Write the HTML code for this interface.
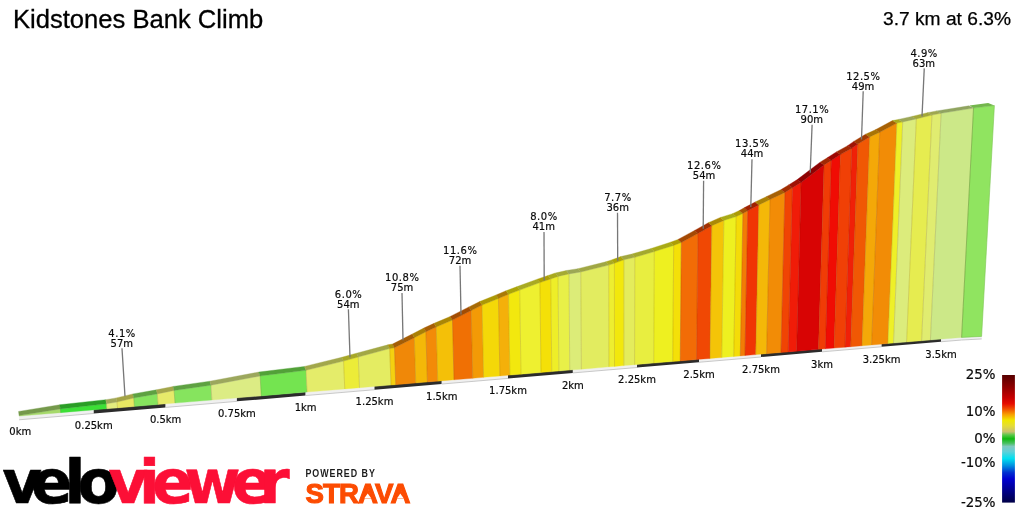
<!DOCTYPE html>
<html><head><meta charset="utf-8"><title>Kidstones Bank Climb</title>
<style>
html,body{margin:0;padding:0;background:#fff;}
body{width:1024px;height:512px;overflow:hidden;position:relative;font-family:"Liberation Sans",sans-serif;}
svg{position:absolute;left:0;top:0;}
.s{font-family:"DejaVu Sans","Liberation Sans",sans-serif;font-size:10px;fill:#0a0a0a;stroke:#0a0a0a;stroke-width:0.18px;text-anchor:middle;}
.lg{font-family:"DejaVu Sans","Liberation Sans",sans-serif;font-size:13.4px;fill:#0a0a0a;stroke:#0a0a0a;stroke-width:0.2px;text-anchor:end;}
.t1{font-family:"Liberation Sans",sans-serif;font-size:25.6px;fill:#000;stroke:#000;stroke-width:0.3px;}
.t2{font-family:"Liberation Sans",sans-serif;font-size:19.2px;fill:#000;stroke:#000;stroke-width:0.25px;text-anchor:end;}
.vv{font-family:"DejaVu Sans","Liberation Sans",sans-serif;font-weight:bold;font-size:61px;stroke-width:0.6px;stroke-linejoin:round;}
.pb{font-family:"Liberation Sans",sans-serif;font-weight:bold;font-size:10.1px;letter-spacing:1.12px;fill:#1c1c1c;}
.st{font-family:"Liberation Sans",sans-serif;font-weight:bold;font-size:27.6px;letter-spacing:-0.9px;fill:#fc4c02;stroke:#fc4c02;stroke-width:1.1px;}
</style></head>
<body>
<svg width="1024" height="512" viewBox="0 0 1024 512">
<defs>
<linearGradient id="lg" x1="0" y1="0" x2="0" y2="1">
<stop offset="0" stop-color="#560000"/>
<stop offset="0.09" stop-color="#8c0000"/>
<stop offset="0.18" stop-color="#c80000"/>
<stop offset="0.225" stop-color="#e60c00"/>
<stop offset="0.265" stop-color="#f04c00"/>
<stop offset="0.31" stop-color="#f8a000"/>
<stop offset="0.355" stop-color="#f0e800"/>
<stop offset="0.40" stop-color="#e4dc38"/>
<stop offset="0.445" stop-color="#c8c070"/>
<stop offset="0.47" stop-color="#58c848"/>
<stop offset="0.50" stop-color="#10b810"/>
<stop offset="0.535" stop-color="#48c060"/>
<stop offset="0.56" stop-color="#80c8c0"/>
<stop offset="0.60" stop-color="#60d0d8"/>
<stop offset="0.655" stop-color="#00e0f0"/>
<stop offset="0.71" stop-color="#0090e0"/>
<stop offset="0.765" stop-color="#0030d0"/>
<stop offset="0.815" stop-color="#0000d0"/>
<stop offset="0.90" stop-color="#000090"/>
<stop offset="0.975" stop-color="#000058"/>
<stop offset="1" stop-color="#000048"/>
</linearGradient>
</defs>
<text class="t1" x="12.9" y="28">Kidstones Bank Climb</text>
<text class="t2" x="1011" y="25">3.7 km at 6.3%</text>
<polygon points="19.10,415.80 93.75,409.57 93.75,413.48 19.10,419.80" fill="#f0f0f0"/>
<polyline points="19.10,419.80 93.75,413.48" fill="none" stroke="#bcbcbc" stroke-width="0.8"/>
<polygon points="93.75,409.57 165.60,403.57 165.60,407.40 93.75,413.48" fill="#2b2b2b"/>
<polygon points="165.60,403.57 236.90,397.61 236.90,401.36 165.60,407.40" fill="#f0f0f0"/>
<polyline points="165.60,407.40 236.90,401.36" fill="none" stroke="#bcbcbc" stroke-width="0.8"/>
<polygon points="236.90,397.61 305.60,391.88 305.60,395.55 236.90,401.36" fill="#2b2b2b"/>
<polygon points="305.60,391.88 374.50,386.12 374.50,389.72 305.60,395.55" fill="#f0f0f0"/>
<polyline points="305.60,395.55 374.50,389.72" fill="none" stroke="#bcbcbc" stroke-width="0.8"/>
<polygon points="374.50,386.12 441.75,380.51 441.75,384.02 374.50,389.72" fill="#2b2b2b"/>
<polygon points="441.75,380.51 508.00,374.98 508.00,378.42 441.75,384.02" fill="#f0f0f0"/>
<polyline points="441.75,384.02 508.00,378.42" fill="none" stroke="#bcbcbc" stroke-width="0.8"/>
<polygon points="508.00,374.98 572.90,369.56 572.90,372.92 508.00,378.42" fill="#2b2b2b"/>
<polygon points="572.90,369.56 637.00,364.21 637.00,367.50 572.90,372.92" fill="#f0f0f0"/>
<polyline points="572.90,372.92 637.00,367.50" fill="none" stroke="#bcbcbc" stroke-width="0.8"/>
<polygon points="637.00,364.21 699.00,359.03 699.00,362.25 637.00,367.50" fill="#2b2b2b"/>
<polygon points="699.00,359.03 761.00,353.85 761.00,357.00 699.00,362.25" fill="#f0f0f0"/>
<polyline points="699.00,362.25 761.00,357.00" fill="none" stroke="#bcbcbc" stroke-width="0.8"/>
<polygon points="761.00,353.85 822.00,348.76 822.00,351.84 761.00,357.00" fill="#2b2b2b"/>
<polygon points="822.00,348.76 881.60,343.78 881.60,346.79 822.00,351.84" fill="#f0f0f0"/>
<polyline points="822.00,351.84 881.60,346.79" fill="none" stroke="#bcbcbc" stroke-width="0.8"/>
<polygon points="881.60,343.78 941.00,338.82 941.00,341.76 881.60,346.79" fill="#2b2b2b"/>
<polygon points="941.00,338.82 961.60,337.10 981.70,336.07 981.70,338.96 961.60,340.02 941.00,341.76" fill="#f0f0f0"/>
<polyline points="941.00,341.76 961.60,340.02 981.70,338.96" fill="none" stroke="#bcbcbc" stroke-width="0.8"/>
<polygon points="19.10,416.10 60.70,412.63 60.38,408.90 19.05,415.60" fill="#a6d96b" stroke="#a6d96b" stroke-width="0.35"/>
<polygon points="60.70,412.63 106.90,408.77 106.51,403.80 60.38,408.90" fill="#3cdf36" stroke="#3cdf36" stroke-width="0.35"/>
<polygon points="106.90,408.77 117.50,407.88 117.04,402.00 106.51,403.80" fill="#e3ec7f" stroke="#e3ec7f" stroke-width="0.35"/>
<polygon points="117.50,407.88 134.40,406.47 133.76,398.00 117.04,402.00" fill="#e8e862" stroke="#e8e862" stroke-width="0.35"/>
<polygon points="134.40,406.47 158.10,404.49 157.34,393.90 133.76,398.00" fill="#86e45e" stroke="#86e45e" stroke-width="0.35"/>
<polygon points="158.10,404.49 175.00,403.08 174.14,390.50 157.34,393.90" fill="#e6ea6a" stroke="#e6ea6a" stroke-width="0.35"/>
<polygon points="175.00,403.08 211.90,400.00 210.97,385.20 174.14,390.50" fill="#86e45e" stroke="#86e45e" stroke-width="0.35"/>
<polygon points="211.90,400.00 261.25,395.88 260.15,376.00 210.97,385.20" fill="#dcec84" stroke="#dcec84" stroke-width="0.35"/>
<polygon points="261.25,395.88 307.10,392.05 306.05,370.30 260.15,376.00" fill="#74e450" stroke="#74e450" stroke-width="0.35"/>
<polygon points="307.10,392.05 344.75,388.91 343.57,361.10 306.05,370.30" fill="#e4ec6a" stroke="#e4ec6a" stroke-width="0.35"/>
<polygon points="344.75,388.91 359.50,387.68 358.27,357.00 343.57,361.10" fill="#ecec38" stroke="#ecec38" stroke-width="0.35"/>
<polygon points="359.50,387.68 391.00,385.05 389.71,348.60 358.27,357.00" fill="#e4ec62" stroke="#e4ec62" stroke-width="0.35"/>
<polygon points="391.00,385.05 395.75,384.65 394.47,347.75 389.71,348.60" fill="#f4d010" stroke="#f4d010" stroke-width="0.35"/>
<polygon points="395.75,384.65 415.75,382.98 414.33,337.75 394.47,347.75" fill="#f08808" stroke="#f08808" stroke-width="0.35"/>
<polygon points="415.75,382.98 427.40,382.01 425.91,331.75 414.33,337.75" fill="#f4b808" stroke="#f4b808" stroke-width="0.35"/>
<polygon points="427.40,382.01 437.75,381.14 436.23,327.00 425.91,331.75" fill="#f38a08" stroke="#f38a08" stroke-width="0.35"/>
<polygon points="437.75,381.14 454.00,379.79 452.47,320.10 436.23,327.00" fill="#f4c008" stroke="#f4c008" stroke-width="0.35"/>
<polygon points="454.00,379.79 472.75,378.22 471.21,310.50 452.47,320.10" fill="#f07004" stroke="#f07004" stroke-width="0.35"/>
<polygon points="472.75,378.22 483.60,377.31 482.08,305.10 471.21,310.50" fill="#f39a06" stroke="#f39a06" stroke-width="0.35"/>
<polygon points="483.60,377.31 499.90,375.95 498.46,298.50 482.08,305.10" fill="#f4d808" stroke="#f4d808" stroke-width="0.35"/>
<polygon points="499.90,375.95 509.90,375.12 508.53,294.25 498.46,298.50" fill="#f4b00a" stroke="#f4b00a" stroke-width="0.35"/>
<polygon points="509.90,375.12 521.00,374.19 519.71,290.10 508.53,294.25" fill="#f2e80e" stroke="#f2e80e" stroke-width="0.35"/>
<polygon points="521.00,374.19 541.00,372.52 539.90,282.60 519.71,290.10" fill="#eef030" stroke="#eef030" stroke-width="0.35"/>
<polygon points="541.00,372.52 551.75,371.62 550.77,278.90 539.90,282.60" fill="#f4e008" stroke="#f4e008" stroke-width="0.35"/>
<polygon points="551.75,371.62 558.90,371.03 558.00,276.40 550.77,278.90" fill="#eeee28" stroke="#eeee28" stroke-width="0.35"/>
<polygon points="558.90,371.03 569.75,370.12 569.00,273.90 558.00,276.40" fill="#e8f048" stroke="#e8f048" stroke-width="0.35"/>
<polygon points="569.75,370.12 581.40,369.15 580.81,272.00 569.00,273.90" fill="#dcec78" stroke="#dcec78" stroke-width="0.35"/>
<polygon points="581.40,369.15 608.90,366.85 608.72,265.10 580.81,272.00" fill="#e2ec60" stroke="#e2ec60" stroke-width="0.35"/>
<polygon points="608.90,366.85 614.50,366.38 614.40,263.25 608.72,265.10" fill="#eeee30" stroke="#eeee30" stroke-width="0.35"/>
<polygon points="614.50,366.38 623.90,365.60 623.95,259.75 614.40,263.25" fill="#f2e80c" stroke="#f2e80c" stroke-width="0.35"/>
<polygon points="623.90,365.60 634.60,364.71 634.83,257.30 623.95,259.75" fill="#e4ec5c" stroke="#e4ec5c" stroke-width="0.35"/>
<polygon points="634.60,364.71 653.75,363.11 654.31,251.60 634.83,257.30" fill="#e8ee40" stroke="#e8ee40" stroke-width="0.35"/>
<polygon points="653.75,363.11 672.75,361.52 673.68,245.40 654.31,251.60" fill="#eef020" stroke="#eef020" stroke-width="0.35"/>
<polygon points="672.75,361.52 680.25,360.89 681.33,242.50 673.68,245.40" fill="#f4e008" stroke="#f4e008" stroke-width="0.35"/>
<polygon points="680.25,360.89 696.50,359.54 697.96,233.50 681.33,242.50" fill="#f26c06" stroke="#f26c06" stroke-width="0.35"/>
<polygon points="696.50,359.54 710.00,358.41 711.81,225.75 697.96,233.50" fill="#f04804" stroke="#f04804" stroke-width="0.35"/>
<polygon points="710.00,358.41 721.75,357.43 723.87,220.40 711.81,225.75" fill="#f4c408" stroke="#f4c408" stroke-width="0.35"/>
<polygon points="721.75,357.43 733.75,356.43 736.17,216.60 723.87,220.40" fill="#eef020" stroke="#eef020" stroke-width="0.35"/>
<polygon points="733.75,356.43 740.30,355.88 742.90,213.50 736.17,216.60" fill="#f4dc08" stroke="#f4dc08" stroke-width="0.35"/>
<polygon points="740.30,355.88 745.00,355.49 747.75,210.75 742.90,213.50" fill="#f27c06" stroke="#f27c06" stroke-width="0.35"/>
<polygon points="745.00,355.49 755.75,354.59 758.84,204.90 747.75,210.75" fill="#f03404" stroke="#f03404" stroke-width="0.35"/>
<polygon points="755.75,354.59 766.60,353.68 770.04,199.50 758.84,204.90" fill="#f4b808" stroke="#f4b808" stroke-width="0.35"/>
<polygon points="766.60,353.68 781.00,352.48 784.92,192.40 770.04,199.50" fill="#f28c06" stroke="#f28c06" stroke-width="0.35"/>
<polygon points="781.00,352.48 788.25,351.88 792.45,187.75 784.92,192.40" fill="#f04404" stroke="#f04404" stroke-width="0.35"/>
<polygon points="788.25,351.88 796.60,351.18 801.14,182.40 792.45,187.75" fill="#f01c08" stroke="#f01c08" stroke-width="0.35"/>
<polygon points="796.60,351.18 818.50,349.35 824.08,164.90 801.14,182.40" fill="#d80404" stroke="#d80404" stroke-width="0.35"/>
<polygon points="818.50,349.35 825.40,348.77 831.29,160.50 824.08,164.90" fill="#f03c06" stroke="#f03c06" stroke-width="0.35"/>
<polygon points="825.40,348.77 834.10,348.05 840.41,154.60 831.29,160.50" fill="#f00c04" stroke="#f00c04" stroke-width="0.35"/>
<polygon points="834.10,348.05 845.00,347.14 851.81,148.30 840.41,154.60" fill="#f04006" stroke="#f04006" stroke-width="0.35"/>
<polygon points="845.00,347.14 850.75,346.66 857.87,144.00 851.81,148.30" fill="#f02008" stroke="#f02008" stroke-width="0.35"/>
<polygon points="850.75,346.66 862.00,345.72 869.70,136.90 857.87,144.00" fill="#f05804" stroke="#f05804" stroke-width="0.35"/>
<polygon points="862.00,345.72 871.60,344.92 879.75,132.25 869.70,136.90" fill="#f4a808" stroke="#f4a808" stroke-width="0.35"/>
<polygon points="871.60,344.92 887.90,343.56 896.89,123.10 879.75,132.25" fill="#f28c06" stroke="#f28c06" stroke-width="0.35"/>
<polygon points="887.90,343.56 893.50,343.09 902.71,121.90 896.89,123.10" fill="#eef028" stroke="#eef028" stroke-width="0.35"/>
<polygon points="893.50,343.09 906.60,341.99 916.34,118.90 902.71,121.90" fill="#dcec7c" stroke="#dcec7c" stroke-width="0.35"/>
<polygon points="906.60,341.99 921.60,340.74 931.96,115.10 916.34,118.90" fill="#e6ec50" stroke="#e6ec50" stroke-width="0.35"/>
<polygon points="921.60,340.74 930.40,340.01 941.11,113.30 931.96,115.10" fill="#e0ec70" stroke="#e0ec70" stroke-width="0.35"/>
<polygon points="930.40,340.01 961.60,337.40 973.52,108.10 941.11,113.30" fill="#cce888" stroke="#cce888" stroke-width="0.35"/>
<polygon points="961.60,337.40 981.60,336.40 994.40,105.60 973.52,108.10" fill="#90e460" stroke="#7cc452" stroke-width="0.6"/>
<line x1="60.70" y1="412.63" x2="60.38" y2="408.90" stroke="#5a3400" stroke-opacity="0.24" stroke-width="0.7"/>
<line x1="106.90" y1="408.77" x2="106.51" y2="403.80" stroke="#5a3400" stroke-opacity="0.24" stroke-width="0.7"/>
<line x1="117.50" y1="407.88" x2="117.04" y2="402.00" stroke="#5a3400" stroke-opacity="0.24" stroke-width="0.7"/>
<line x1="134.40" y1="406.47" x2="133.76" y2="398.00" stroke="#5a3400" stroke-opacity="0.24" stroke-width="0.7"/>
<line x1="158.10" y1="404.49" x2="157.34" y2="393.90" stroke="#5a3400" stroke-opacity="0.24" stroke-width="0.7"/>
<line x1="175.00" y1="403.08" x2="174.14" y2="390.50" stroke="#5a3400" stroke-opacity="0.24" stroke-width="0.7"/>
<line x1="211.90" y1="400.00" x2="210.97" y2="385.20" stroke="#5a3400" stroke-opacity="0.24" stroke-width="0.7"/>
<line x1="261.25" y1="395.88" x2="260.15" y2="376.00" stroke="#5a3400" stroke-opacity="0.24" stroke-width="0.7"/>
<line x1="307.10" y1="392.05" x2="306.05" y2="370.30" stroke="#5a3400" stroke-opacity="0.24" stroke-width="0.7"/>
<line x1="344.75" y1="388.91" x2="343.57" y2="361.10" stroke="#5a3400" stroke-opacity="0.24" stroke-width="0.7"/>
<line x1="359.50" y1="387.68" x2="358.27" y2="357.00" stroke="#5a3400" stroke-opacity="0.24" stroke-width="0.7"/>
<line x1="391.00" y1="385.05" x2="389.71" y2="348.60" stroke="#5a3400" stroke-opacity="0.24" stroke-width="0.7"/>
<line x1="395.75" y1="384.65" x2="394.47" y2="347.75" stroke="#5a3400" stroke-opacity="0.24" stroke-width="0.7"/>
<line x1="415.75" y1="382.98" x2="414.33" y2="337.75" stroke="#5a3400" stroke-opacity="0.24" stroke-width="0.7"/>
<line x1="427.40" y1="382.01" x2="425.91" y2="331.75" stroke="#5a3400" stroke-opacity="0.24" stroke-width="0.7"/>
<line x1="437.75" y1="381.14" x2="436.23" y2="327.00" stroke="#5a3400" stroke-opacity="0.24" stroke-width="0.7"/>
<line x1="454.00" y1="379.79" x2="452.47" y2="320.10" stroke="#5a3400" stroke-opacity="0.24" stroke-width="0.7"/>
<line x1="472.75" y1="378.22" x2="471.21" y2="310.50" stroke="#5a3400" stroke-opacity="0.24" stroke-width="0.7"/>
<line x1="483.60" y1="377.31" x2="482.08" y2="305.10" stroke="#5a3400" stroke-opacity="0.24" stroke-width="0.7"/>
<line x1="499.90" y1="375.95" x2="498.46" y2="298.50" stroke="#5a3400" stroke-opacity="0.24" stroke-width="0.7"/>
<line x1="509.90" y1="375.12" x2="508.53" y2="294.25" stroke="#5a3400" stroke-opacity="0.24" stroke-width="0.7"/>
<line x1="521.00" y1="374.19" x2="519.71" y2="290.10" stroke="#5a3400" stroke-opacity="0.24" stroke-width="0.7"/>
<line x1="541.00" y1="372.52" x2="539.90" y2="282.60" stroke="#5a3400" stroke-opacity="0.24" stroke-width="0.7"/>
<line x1="551.75" y1="371.62" x2="550.77" y2="278.90" stroke="#5a3400" stroke-opacity="0.24" stroke-width="0.7"/>
<line x1="558.90" y1="371.03" x2="558.00" y2="276.40" stroke="#5a3400" stroke-opacity="0.24" stroke-width="0.7"/>
<line x1="569.75" y1="370.12" x2="569.00" y2="273.90" stroke="#5a3400" stroke-opacity="0.24" stroke-width="0.7"/>
<line x1="581.40" y1="369.15" x2="580.81" y2="272.00" stroke="#5a3400" stroke-opacity="0.24" stroke-width="0.7"/>
<line x1="608.90" y1="366.85" x2="608.72" y2="265.10" stroke="#5a3400" stroke-opacity="0.24" stroke-width="0.7"/>
<line x1="614.50" y1="366.38" x2="614.40" y2="263.25" stroke="#5a3400" stroke-opacity="0.24" stroke-width="0.7"/>
<line x1="623.90" y1="365.60" x2="623.95" y2="259.75" stroke="#5a3400" stroke-opacity="0.24" stroke-width="0.7"/>
<line x1="634.60" y1="364.71" x2="634.83" y2="257.30" stroke="#5a3400" stroke-opacity="0.24" stroke-width="0.7"/>
<line x1="653.75" y1="363.11" x2="654.31" y2="251.60" stroke="#5a3400" stroke-opacity="0.24" stroke-width="0.7"/>
<line x1="672.75" y1="361.52" x2="673.68" y2="245.40" stroke="#5a3400" stroke-opacity="0.24" stroke-width="0.7"/>
<line x1="680.25" y1="360.89" x2="681.33" y2="242.50" stroke="#5a3400" stroke-opacity="0.24" stroke-width="0.7"/>
<line x1="696.50" y1="359.54" x2="697.96" y2="233.50" stroke="#5a3400" stroke-opacity="0.24" stroke-width="0.7"/>
<line x1="710.00" y1="358.41" x2="711.81" y2="225.75" stroke="#5a3400" stroke-opacity="0.24" stroke-width="0.7"/>
<line x1="721.75" y1="357.43" x2="723.87" y2="220.40" stroke="#5a3400" stroke-opacity="0.24" stroke-width="0.7"/>
<line x1="733.75" y1="356.43" x2="736.17" y2="216.60" stroke="#5a3400" stroke-opacity="0.24" stroke-width="0.7"/>
<line x1="740.30" y1="355.88" x2="742.90" y2="213.50" stroke="#5a3400" stroke-opacity="0.24" stroke-width="0.7"/>
<line x1="745.00" y1="355.49" x2="747.75" y2="210.75" stroke="#5a3400" stroke-opacity="0.24" stroke-width="0.7"/>
<line x1="755.75" y1="354.59" x2="758.84" y2="204.90" stroke="#5a3400" stroke-opacity="0.24" stroke-width="0.7"/>
<line x1="766.60" y1="353.68" x2="770.04" y2="199.50" stroke="#5a3400" stroke-opacity="0.24" stroke-width="0.7"/>
<line x1="781.00" y1="352.48" x2="784.92" y2="192.40" stroke="#5a3400" stroke-opacity="0.24" stroke-width="0.7"/>
<line x1="788.25" y1="351.88" x2="792.45" y2="187.75" stroke="#5a3400" stroke-opacity="0.24" stroke-width="0.7"/>
<line x1="796.60" y1="351.18" x2="801.14" y2="182.40" stroke="#5a3400" stroke-opacity="0.24" stroke-width="0.7"/>
<line x1="818.50" y1="349.35" x2="824.08" y2="164.90" stroke="#5a3400" stroke-opacity="0.24" stroke-width="0.7"/>
<line x1="825.40" y1="348.77" x2="831.29" y2="160.50" stroke="#5a3400" stroke-opacity="0.24" stroke-width="0.7"/>
<line x1="834.10" y1="348.05" x2="840.41" y2="154.60" stroke="#5a3400" stroke-opacity="0.24" stroke-width="0.7"/>
<line x1="845.00" y1="347.14" x2="851.81" y2="148.30" stroke="#5a3400" stroke-opacity="0.24" stroke-width="0.7"/>
<line x1="850.75" y1="346.66" x2="857.87" y2="144.00" stroke="#5a3400" stroke-opacity="0.24" stroke-width="0.7"/>
<line x1="862.00" y1="345.72" x2="869.70" y2="136.90" stroke="#5a3400" stroke-opacity="0.24" stroke-width="0.7"/>
<line x1="871.60" y1="344.92" x2="879.75" y2="132.25" stroke="#5a3400" stroke-opacity="0.24" stroke-width="0.7"/>
<line x1="887.90" y1="343.56" x2="896.89" y2="123.10" stroke="#5a3400" stroke-opacity="0.24" stroke-width="0.7"/>
<line x1="893.50" y1="343.09" x2="902.71" y2="121.90" stroke="#5a3400" stroke-opacity="0.24" stroke-width="0.7"/>
<line x1="906.60" y1="341.99" x2="916.34" y2="118.90" stroke="#5a3400" stroke-opacity="0.24" stroke-width="0.7"/>
<line x1="921.60" y1="340.74" x2="931.96" y2="115.10" stroke="#5a3400" stroke-opacity="0.24" stroke-width="0.7"/>
<line x1="930.40" y1="340.01" x2="941.11" y2="113.30" stroke="#5a3400" stroke-opacity="0.24" stroke-width="0.7"/>
<line x1="961.60" y1="337.40" x2="973.52" y2="108.10" stroke="#5a3400" stroke-opacity="0.24" stroke-width="0.7"/>
<polygon points="19.05,415.60 60.38,408.90 59.76,404.76 18.55,411.45" fill="#75994b" stroke="#75994b" stroke-width="0.35"/>
<polygon points="60.38,408.90 106.51,403.80 105.73,399.69 59.76,404.76" fill="#2a9d26" stroke="#2a9d26" stroke-width="0.35"/>
<polygon points="106.51,403.80 117.04,402.00 116.23,397.90 105.73,399.69" fill="#a1a75a" stroke="#a1a75a" stroke-width="0.35"/>
<polygon points="117.04,402.00 133.76,398.00 132.89,393.91 116.23,397.90" fill="#a4a445" stroke="#a4a445" stroke-width="0.35"/>
<polygon points="133.76,398.00 157.34,393.90 156.38,389.84 132.89,393.91" fill="#5ea142" stroke="#5ea142" stroke-width="0.35"/>
<polygon points="157.34,393.90 174.14,390.50 173.11,386.45 156.38,389.84" fill="#a3a64b" stroke="#a3a64b" stroke-width="0.35"/>
<polygon points="174.14,390.50 210.97,385.20 209.79,381.19 173.11,386.45" fill="#5ea142" stroke="#5ea142" stroke-width="0.35"/>
<polygon points="210.97,385.20 260.15,376.00 258.77,372.06 209.79,381.19" fill="#9ca75d" stroke="#9ca75d" stroke-width="0.35"/>
<polygon points="260.15,376.00 306.05,370.30 304.48,366.42 258.77,372.06" fill="#52a138" stroke="#52a138" stroke-width="0.35"/>
<polygon points="306.05,370.30 343.57,361.10 341.83,357.28 304.48,366.42" fill="#a2a74b" stroke="#a2a74b" stroke-width="0.35"/>
<polygon points="343.57,361.10 358.27,357.00 356.47,353.21 341.83,357.28" fill="#a7a727" stroke="#a7a727" stroke-width="0.35"/>
<polygon points="358.27,357.00 389.71,348.60 387.77,344.86 356.47,353.21" fill="#a2a745" stroke="#a2a745" stroke-width="0.35"/>
<polygon points="389.71,348.60 394.47,347.75 392.51,344.02 387.77,344.86" fill="#ab920b" stroke="#ab920b" stroke-width="0.35"/>
<polygon points="394.47,347.75 414.33,337.75 412.27,334.06 392.51,344.02" fill="#a45d05" stroke="#a45d05" stroke-width="0.35"/>
<polygon points="414.33,337.75 425.91,331.75 423.80,328.08 412.27,334.06" fill="#aa8005" stroke="#aa8005" stroke-width="0.35"/>
<polygon points="425.91,331.75 436.23,327.00 434.08,323.35 423.80,328.08" fill="#a75e05" stroke="#a75e05" stroke-width="0.35"/>
<polygon points="436.23,327.00 452.47,320.10 450.24,316.48 434.08,323.35" fill="#aa8605" stroke="#aa8605" stroke-width="0.35"/>
<polygon points="452.47,320.10 471.21,310.50 468.90,306.92 450.24,316.48" fill="#a34c02" stroke="#a34c02" stroke-width="0.35"/>
<polygon points="471.21,310.50 482.08,305.10 479.72,301.54 468.90,306.92" fill="#a76a04" stroke="#a76a04" stroke-width="0.35"/>
<polygon points="482.08,305.10 498.46,298.50 496.02,294.97 479.72,301.54" fill="#ac9805" stroke="#ac9805" stroke-width="0.35"/>
<polygon points="498.46,298.50 508.53,294.25 506.04,290.75 496.02,294.97" fill="#a97a06" stroke="#a97a06" stroke-width="0.35"/>
<polygon points="508.53,294.25 519.71,290.10 517.17,286.62 506.04,290.75" fill="#aba409" stroke="#aba409" stroke-width="0.35"/>
<polygon points="519.71,290.10 539.90,282.60 537.27,279.16 517.17,286.62" fill="#a9aa22" stroke="#a9aa22" stroke-width="0.35"/>
<polygon points="539.90,282.60 550.77,278.90 548.08,275.49 537.27,279.16" fill="#ac9e05" stroke="#ac9e05" stroke-width="0.35"/>
<polygon points="550.77,278.90 558.00,276.40 555.28,273.00 548.08,275.49" fill="#a9a91c" stroke="#a9a91c" stroke-width="0.35"/>
<polygon points="558.00,276.40 569.00,273.90 566.23,270.53 555.28,273.00" fill="#a5aa33" stroke="#a5aa33" stroke-width="0.35"/>
<polygon points="569.00,273.90 580.81,272.00 577.99,268.65 566.23,270.53" fill="#9ca755" stroke="#9ca755" stroke-width="0.35"/>
<polygon points="580.81,272.00 608.72,265.10 605.75,261.82 577.99,268.65" fill="#a0a744" stroke="#a0a744" stroke-width="0.35"/>
<polygon points="608.72,265.10 614.40,263.25 611.41,259.98 605.75,261.82" fill="#a9a922" stroke="#a9a922" stroke-width="0.35"/>
<polygon points="614.40,263.25 623.95,259.75 620.92,256.51 611.41,259.98" fill="#aba408" stroke="#aba408" stroke-width="0.35"/>
<polygon points="623.95,259.75 634.83,257.30 631.74,254.08 620.92,256.51" fill="#a2a741" stroke="#a2a741" stroke-width="0.35"/>
<polygon points="634.83,257.30 654.31,251.60 651.13,248.43 631.74,254.08" fill="#a4a92d" stroke="#a4a92d" stroke-width="0.35"/>
<polygon points="654.31,251.60 673.68,245.40 670.40,242.28 651.13,248.43" fill="#a9aa16" stroke="#a9aa16" stroke-width="0.35"/>
<polygon points="673.68,245.40 681.33,242.50 678.02,239.40 670.40,242.28" fill="#ac9e05" stroke="#ac9e05" stroke-width="0.35"/>
<polygon points="681.33,242.50 697.96,233.50 694.57,230.44 678.02,239.40" fill="#a44904" stroke="#a44904" stroke-width="0.35"/>
<polygon points="697.96,233.50 711.81,225.75 708.35,222.73 694.57,230.44" fill="#a13002" stroke="#a13002" stroke-width="0.35"/>
<polygon points="711.81,225.75 723.87,220.40 720.35,217.41 708.35,222.73" fill="#ab8905" stroke="#ab8905" stroke-width="0.35"/>
<polygon points="723.87,220.40 736.17,216.60 732.59,213.64 720.35,217.41" fill="#a9aa16" stroke="#a9aa16" stroke-width="0.35"/>
<polygon points="736.17,216.60 742.90,213.50 739.29,210.56 732.59,213.64" fill="#ac9b05" stroke="#ac9b05" stroke-width="0.35"/>
<polygon points="742.90,213.50 747.75,210.75 744.11,207.82 739.29,210.56" fill="#a55404" stroke="#a55404" stroke-width="0.35"/>
<polygon points="747.75,210.75 758.84,204.90 755.15,202.00 744.11,207.82" fill="#a02202" stroke="#a02202" stroke-width="0.35"/>
<polygon points="758.84,204.90 770.04,199.50 766.29,196.63 755.15,202.00" fill="#aa8005" stroke="#aa8005" stroke-width="0.35"/>
<polygon points="770.04,199.50 784.92,192.40 781.10,189.57 766.29,196.63" fill="#a66004" stroke="#a66004" stroke-width="0.35"/>
<polygon points="784.92,192.40 792.45,187.75 788.59,184.94 781.10,189.57" fill="#a12d02" stroke="#a12d02" stroke-width="0.35"/>
<polygon points="792.45,187.75 801.14,182.40 797.23,179.62 788.59,184.94" fill="#9e1205" stroke="#9e1205" stroke-width="0.35"/>
<polygon points="801.14,182.40 824.08,164.90 820.05,162.18 797.23,179.62" fill="#8d0202" stroke="#8d0202" stroke-width="0.35"/>
<polygon points="824.08,164.90 831.29,160.50 827.23,157.80 820.05,162.18" fill="#a02804" stroke="#a02804" stroke-width="0.35"/>
<polygon points="831.29,160.50 840.41,154.60 836.30,151.93 827.23,157.80" fill="#9d0702" stroke="#9d0702" stroke-width="0.35"/>
<polygon points="840.41,154.60 851.81,148.30 847.65,145.66 836.30,151.93" fill="#a02a04" stroke="#a02a04" stroke-width="0.35"/>
<polygon points="851.81,148.30 857.87,144.00 853.68,141.38 847.65,145.66" fill="#9f1505" stroke="#9f1505" stroke-width="0.35"/>
<polygon points="857.87,144.00 869.70,136.90 865.44,134.31 853.68,141.38" fill="#a23b02" stroke="#a23b02" stroke-width="0.35"/>
<polygon points="869.70,136.90 879.75,132.25 875.45,129.69 865.44,134.31" fill="#a97405" stroke="#a97405" stroke-width="0.35"/>
<polygon points="879.75,132.25 896.89,123.10 892.50,120.59 875.45,129.69" fill="#a66004" stroke="#a66004" stroke-width="0.35"/>
<polygon points="896.89,123.10 902.71,121.90 898.29,119.41 892.50,120.59" fill="#a9aa1c" stroke="#a9aa1c" stroke-width="0.35"/>
<polygon points="902.71,121.90 916.34,118.90 911.85,116.45 898.29,119.41" fill="#9ca758" stroke="#9ca758" stroke-width="0.35"/>
<polygon points="916.34,118.90 931.96,115.10 927.39,112.70 911.85,116.45" fill="#a3a738" stroke="#a3a738" stroke-width="0.35"/>
<polygon points="931.96,115.10 941.11,113.30 936.50,110.93 927.39,112.70" fill="#9fa74f" stroke="#9fa74f" stroke-width="0.35"/>
<polygon points="941.11,113.30 973.52,108.10 968.74,105.83 936.50,110.93" fill="#90a460" stroke="#90a460" stroke-width="0.35"/>
<polygon points="973.52,108.10 994.40,105.60 988.10,103.10 969.40,105.60" fill="#73b64c"/>
<line x1="122.00" y1="348.30" x2="125.00" y2="396.30" stroke="#777" stroke-width="1.3"/>
<text class="s" letter-spacing="0.5" x="122.05" y="336.60">4.1%</text>
<text class="s" x="121.80" y="346.70">57m</text>
<line x1="348.40" y1="309.30" x2="350.00" y2="357.30" stroke="#777" stroke-width="1.3"/>
<text class="s" letter-spacing="0.5" x="348.55" y="297.60">6.0%</text>
<text class="s" x="348.30" y="307.70">54m</text>
<line x1="402.00" y1="293.10" x2="403.00" y2="340.30" stroke="#777" stroke-width="1.3"/>
<text class="s" letter-spacing="0.5" x="402.25" y="280.75">10.8%</text>
<text class="s" x="402.00" y="290.75">75m</text>
<line x1="460.00" y1="265.70" x2="461.00" y2="314.50" stroke="#777" stroke-width="1.3"/>
<text class="s" letter-spacing="0.5" x="460.25" y="253.80">11.6%</text>
<text class="s" x="460.00" y="263.70">72m</text>
<line x1="544.00" y1="232.00" x2="544.20" y2="280.30" stroke="#777" stroke-width="1.3"/>
<text class="s" letter-spacing="0.5" x="543.95" y="219.50">8.0%</text>
<text class="s" x="543.70" y="229.70">41m</text>
<line x1="617.50" y1="212.80" x2="617.70" y2="260.70" stroke="#777" stroke-width="1.3"/>
<text class="s" letter-spacing="0.5" x="617.95" y="200.70">7.7%</text>
<text class="s" x="617.70" y="210.70">36m</text>
<line x1="703.60" y1="180.80" x2="703.20" y2="228.70" stroke="#777" stroke-width="1.3"/>
<text class="s" letter-spacing="0.5" x="704.25" y="168.90">12.6%</text>
<text class="s" x="704.00" y="178.70">54m</text>
<line x1="752.00" y1="159.20" x2="750.80" y2="206.90" stroke="#777" stroke-width="1.3"/>
<text class="s" letter-spacing="0.5" x="752.25" y="146.90">13.5%</text>
<text class="s" x="752.00" y="157.40">44m</text>
<line x1="812.10" y1="124.70" x2="810.20" y2="172.70" stroke="#777" stroke-width="1.3"/>
<text class="s" letter-spacing="0.5" x="812.05" y="112.50">17.1%</text>
<text class="s" x="811.80" y="122.65">90m</text>
<line x1="863.20" y1="91.20" x2="861.50" y2="139.60" stroke="#777" stroke-width="1.3"/>
<text class="s" letter-spacing="0.5" x="863.35" y="79.70">12.5%</text>
<text class="s" x="863.10" y="89.60">49m</text>
<line x1="924.25" y1="68.40" x2="922.00" y2="116.40" stroke="#777" stroke-width="1.3"/>
<text class="s" letter-spacing="0.5" x="924.10" y="56.70">4.9%</text>
<text class="s" x="923.85" y="66.70">63m</text>
<text class="s" x="20.30" y="435.00">0km</text>
<text class="s" x="93.75" y="428.77">0.25km</text>
<text class="s" x="165.60" y="422.77">0.5km</text>
<text class="s" x="236.90" y="416.81">0.75km</text>
<text class="s" x="305.60" y="411.08">1km</text>
<text class="s" x="374.50" y="405.32">1.25km</text>
<text class="s" x="441.75" y="399.71">1.5km</text>
<text class="s" x="508.00" y="394.18">1.75km</text>
<text class="s" x="572.90" y="388.76">2km</text>
<text class="s" x="637.00" y="383.41">2.25km</text>
<text class="s" x="699.00" y="378.23">2.5km</text>
<text class="s" x="761.00" y="373.05">2.75km</text>
<text class="s" x="822.00" y="367.96">3km</text>
<text class="s" x="881.60" y="362.98">3.25km</text>
<text class="s" x="941.00" y="358.02">3.5km</text>
<rect x="1002.1" y="375" width="12.8" height="127.6" fill="url(#lg)"/>
<text class="lg" x="995.6" y="378.8">25%</text>
<text class="lg" x="995.6" y="416.3">10%</text>
<text class="lg" x="995.6" y="442.6">0%</text>
<text class="lg" x="995.6" y="467.4">-10%</text>
<text class="lg" x="995.6" y="506.6">-25%</text>
<text class="pb" transform="translate(305.4,476.7) scale(0.88,1)">POWERED BY</text>
<text class="st" x="305.6" y="503.4">STRAVA</text>
<polygon points="367.6,487.5 364.4,496.4 371,496.4" fill="#fc4c02" stroke="#fc4c02" stroke-width="0.6"/>
<polygon points="367.7,493.6 364.3,498.3 371.2,498.3" fill="#fff"/>
<polygon points="400.2,487.5 397,496.4 403.5,496.4" fill="#fc4c02" stroke="#fc4c02" stroke-width="0.6"/>
<polygon points="400.3,493.6 397.1,498.3 403.6,498.3" fill="#fff"/>
</svg>
<div id="logo" aria-label="veloviewer">
<svg width="1024" height="512" viewBox="0 0 1024 512" style="z-index:2"><text class="vv" y="503" x="2.2 30.9 64.4 77.4" fill="#000" stroke="#000">velo</text></svg><svg width="1024" height="512" viewBox="0 0 1024 512" style="z-index:3"><text class="vv" y="503" x="108.2 138.9 152.1 184.2 231.7 259.5" fill="#fc0f36" stroke="#fc0f36">viewer</text></svg>
</div>
</body></html>
